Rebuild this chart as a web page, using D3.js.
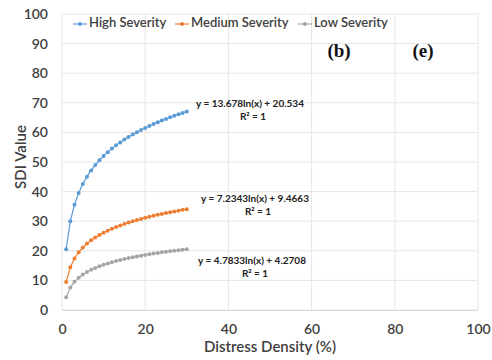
<!DOCTYPE html>
<html>
<head>
<meta charset="utf-8">
<script src="https://cdn.jsdelivr.net/npm/d3@7"></script>
<style>
  body { margin: 0; background: #fff; }
  text { font-family: Lato, "Open Sans", sans-serif; }
</style>
</head>
<body>
<div id="chart"></div>
<script>
// distress density (%) for each point
var density = [1,2,3,4,5,6,7,8,9,10,11,12,13,14,15,16,17,18,19,20,21,22,23,24,25,26,27,28,29,30];

// SDI values
var highSev = [20.53,30.01,35.56,39.50,42.55,45.04,47.15,48.98,50.59,52.03,53.33,54.52,55.62,56.63,57.58,
	58.46,59.29,60.07,60.81,61.51,62.18,62.81,63.42,64.00,64.56,65.10,65.61,66.11,66.59,67.06];
var medSev = [9.47,14.48,17.41,19.50,21.11,22.43,23.54,24.51,25.36,26.12,26.81,27.44,28.02,28.56,29.06,
	29.52,29.96,30.38,30.77,31.14,31.49,31.83,32.15,32.46,32.75,33.04,33.31,33.57,33.83,34.07];
var lowSev = [4.27,7.59,9.53,10.90,11.97,12.84,13.58,14.22,14.78,15.29,15.74,16.16,16.54,16.89,17.23,
	17.53,17.82,18.10,18.36,18.60,18.83,19.06,19.27,19.47,19.67,19.86,20.04,20.21,20.38,20.54];

var seriesNames = ["High Severity", "Medium Severity", "Low Severity"];
var seriesColors = ["#5b9bd5", "#ed7d31", "#a5a5a5"];
var trendLabels = ["y = 13.678ln(x) + 20.534", "y = 7.2343ln(x) + 9.4663", "y = 4.7833ln(x) + 4.2708"];
var xTicks = [0, 20, 40, 60, 80, 100];
var yTicks = [0, 10, 20, 30, 40, 50, 60, 70, 80, 90, 100];

var svgWidth = 492;
var svgHeight = 360;
var margin = { top: 14, right: 14, bottom: 50, left: 62 };
var width = svgWidth - margin.left - margin.right;
var height = svgHeight - margin.top - margin.bottom;

var svg = d3.select("#chart")
	.append("svg")
	.attr("width", svgWidth)
	.attr("height", svgHeight);

var chartGroup = svg.append("g")
	.attr("transform", `translate(${margin.left}, ${margin.top})`);

var xScale = d3.scaleLinear().domain([0, 100]).range([0, width]);
var yScale = d3.scaleLinear().domain([0, 100]).range([height, 0]);

// gridlines
chartGroup.append("g")
	.selectAll("line.hgrid")
	.data(yTicks)
	.enter()
	.append("line")
	.attr("x1", 0)
	.attr("x2", width)
	.attr("y1", d => yScale(d))
	.attr("y2", d => yScale(d))
	.attr("stroke", "#e6e6e6")
	.attr("stroke-width", 1);

chartGroup.append("g")
	.selectAll("line.vgrid")
	.data(xTicks)
	.enter()
	.append("line")
	.attr("x1", d => xScale(d))
	.attr("x2", d => xScale(d))
	.attr("y1", 0)
	.attr("y2", height)
	.attr("stroke", "#e6e6e6")
	.attr("stroke-width", 1);

// axes
var bottomAxis = d3.axisBottom(xScale).tickValues(xTicks).tickSize(0).tickPadding(14);
var leftAxis = d3.axisLeft(yScale).tickValues(yTicks).tickSize(0).tickPadding(14);

var xAxisG = chartGroup.append("g")
	.attr("transform", `translate(0, ${height})`)
	.call(bottomAxis);
xAxisG.select(".domain").attr("stroke", "#d9d9d9");

var yAxisG = chartGroup.append("g").call(leftAxis);
yAxisG.select(".domain").remove();

svg.selectAll(".tick text")
	.attr("fill", "#404040")
	.style("font-size", "14px")
	.style("font-weight", "600")
	.style("font-family", "Lato, 'Open Sans', sans-serif");

// series
var allSeries = [highSev, medSev, lowSev];
var line = d3.line()
	.x((d, i) => xScale(density[i]))
	.y(d => yScale(d));

allSeries.forEach(function(vals, s) {
	chartGroup.append("path")
		.datum(vals)
		.attr("fill", "none")
		.attr("stroke", seriesColors[s])
		.attr("stroke-width", 1.2)
		.attr("d", line);

	chartGroup.selectAll(".pt" + s)
		.data(vals)
		.enter()
		.append("circle")
		.attr("cx", (d, i) => xScale(density[i]))
		.attr("cy", d => yScale(d))
		.attr("r", 2)
		.attr("fill", seriesColors[s]);
});

// trendline equations
var eqPos = [[250, 104], [255, 199], [252, 261]];
trendLabels.forEach(function(t, s) {
	var g = svg.append("g");
	g.append("text")
		.attr("x", eqPos[s][0])
		.attr("y", eqPos[s][1])
		.attr("text-anchor", "middle")
		.attr("dominant-baseline", "middle")
		.attr("fill", "#222")
		.style("font-size", "10px")
		.style("font-weight", "bold")
		.text(t);
	g.append("text")
		.attr("x", eqPos[s][0] + 3)
		.attr("y", eqPos[s][1] + 13)
		.attr("text-anchor", "middle")
		.attr("dominant-baseline", "middle")
		.attr("fill", "#222")
		.style("font-size", "10px")
		.style("font-weight", "bold")
		.text("R² = 1");
});

// legend
var legendX = [73, 175, 298];
seriesNames.forEach(function(name, s) {
	var lg = svg.append("g").attr("transform", `translate(${legendX[s]}, 24)`);
	lg.append("line")
		.attr("x1", 0).attr("x2", 14)
		.attr("y1", 0).attr("y2", 0)
		.attr("stroke", seriesColors[s])
		.attr("stroke-width", 1.2);
	lg.append("circle")
		.attr("cx", 7).attr("cy", 0).attr("r", 2)
		.attr("fill", seriesColors[s]);
	lg.append("text")
		.attr("x", 16)
		.attr("y", 0)
		.attr("dominant-baseline", "middle")
		.attr("fill", "#404040")
		.style("font-size", "13px")
		.style("font-weight", "600")
		.text(name);
});

// panel letters
svg.append("text")
	.attr("x", 339).attr("y", 57)
	.attr("text-anchor", "middle")
	.style("font-family", "'Liberation Serif', 'DejaVu Serif', serif")
	.style("font-size", "19px")
	.style("font-weight", "bold")
	.attr("fill", "#111")
	.text("(b)");

svg.append("text")
	.attr("x", 423).attr("y", 57)
	.attr("text-anchor", "middle")
	.style("font-family", "'Liberation Serif', 'DejaVu Serif', serif")
	.style("font-size", "19px")
	.style("font-weight", "bold")
	.attr("fill", "#111")
	.text("(e)");

// axis titles
svg.append("text")
	.attr("transform", "rotate(-90)")
	.attr("x", -157)
	.attr("y", 22)
	.attr("text-anchor", "middle")
	.attr("dominant-baseline", "middle")
	.attr("fill", "#404040")
	.style("font-size", "15px")
	.style("font-weight", "600")
	.text("SDI  Value");

svg.append("text")
	.attr("x", 270)
	.attr("y", 348)
	.attr("text-anchor", "middle")
	.attr("dominant-baseline", "middle")
	.attr("fill", "#404040")
	.style("font-size", "15px")
	.style("font-weight", "600")
	.text("Distress Density (%)");
</script>
</body>
</html>
